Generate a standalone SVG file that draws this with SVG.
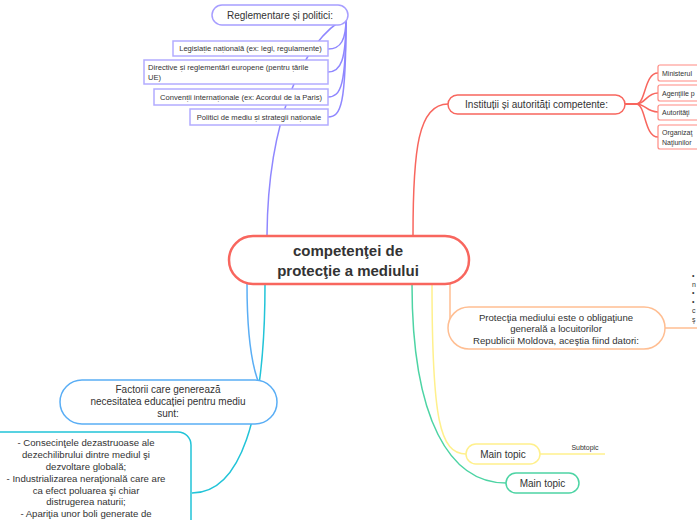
<svg xmlns="http://www.w3.org/2000/svg" width="697" height="520" viewBox="0 0 697 520">
<style>
text{font-family:"Liberation Sans",Arial,sans-serif;fill:#333;text-anchor:middle;dominant-baseline:central}
.c{fill:none;stroke-width:1.5}
.lav{stroke:#8f87ff}
.lbox{fill:#fff;stroke:#b3acff;stroke-width:1.5}
.red{stroke:#f8665e}
.rbox{fill:#fff;stroke:#ff8a82;stroke-width:1.2}
.s7{font-size:7.6px}
.s9{font-size:9.6px}
.t7{font-size:7px}
.l{text-anchor:start}
</style>
<rect width="697" height="520" fill="#fff"/>
<g id="connectors">
<path class="c lav" d="M267 235 C268 120 303 40 347 17"/>
<path class="c lav" d="M346 18 C346 40 341 49 328 49"/>
<path class="c lav" d="M346 18 C346 60 341 72 328 72"/>
<path class="c lav" d="M346 18 C346 85 341 97 328 97"/>
<path class="c lav" d="M346 18 C346 105 341 117 328 117"/>
<path class="c red" d="M413 235 C413 150 418 104 448 104"/>
<path class="c red" d="M625 104 L636 104 C646 104 644 73 658 73"/>
<path class="c red" d="M625 104 L636 104 C646 104 646 93 658 93"/>
<path class="c red" d="M625 104 L636 104 C646 104 646 112 658 112"/>
<path class="c red" d="M625 104 L636 104 C646 104 644 137 658 137"/>
<path class="c" stroke="#ffbe92" d="M450 284 L450 326"/>
<path class="c" stroke="#ffbe92" d="M664 328 L697 328"/>
<path class="c" stroke="#fff08c" d="M432 284 C432 420 440 454 466 454"/>
<path class="c" stroke="#fff08c" d="M540 454 L605 454"/>
<path class="c" stroke="#4dd4a4" d="M412 284 C412 420 450 483 506 483"/>
<path class="c" stroke="#5aaef5" d="M247 284 C247 360 258 400 277 402"/>
<path class="c" stroke="#22c4d8" d="M265 284 C265 420 240 493 192 493"/>
</g>
<g id="central">
<rect x="229" y="236" width="240" height="48" rx="24" fill="#fff" stroke="#f8665e" stroke-width="2.5"/>
<text x="348" y="250" font-size="15" font-weight="bold">competenţei de</text>
<text x="348" y="270" font-size="15" font-weight="bold">protecţie a mediului</text>
</g>
<g id="reglementare">
<rect x="212" y="5" width="136" height="20" rx="10" fill="#fff" stroke="#a79eff" stroke-width="1.5"/>
<text x="280" y="15.5" font-size="10">Reglementare și politici:</text>
</g>
<g id="legislatie">
<rect class="lbox" x="173" y="41" width="155" height="15"/>
<text class="s7" x="250.5" y="48.5">Legislație națională (ex: legi, regulamente)</text>
</g>
<g id="directive">
<rect class="lbox" x="144" y="60" width="184" height="24"/>
<text class="s7 l" x="148" y="67">Directive și reglementări europene (pentru țările</text>
<text class="s7 l" x="148" y="77">UE)</text>
</g>
<g id="conventii">
<rect class="lbox" x="154" y="89" width="174" height="16"/>
<text class="s7" x="241" y="97">Convenții internaționale (ex: Acordul de la Paris)</text>
</g>
<g id="politici">
<rect class="lbox" x="190" y="109" width="138" height="16"/>
<text class="s7" x="259" y="117">Politici de mediu și strategii naționale</text>
</g>
<g id="institutii">
<rect x="448" y="95" width="177" height="19" rx="9.5" fill="#fff" stroke="#f8665e" stroke-width="1.5"/>
<text x="536.5" y="104.5" font-size="10">Instituții și autorități competente:</text>
</g>
<g id="ministerul">
<rect class="rbox" x="658" y="65" width="50" height="16" rx="2"/>
<text class="t7 l" x="662" y="73">Ministerul</text>
</g>
<g id="agentiile">
<rect class="rbox" x="658" y="85" width="50" height="16" rx="2"/>
<text class="t7 l" x="662" y="93">Agenţiile p</text>
</g>
<g id="autoritati">
<rect class="rbox" x="658" y="105" width="50" height="15" rx="2"/>
<text class="t7 l" x="662" y="112.5">Autorităţi</text>
</g>
<g id="organizatii">
<rect class="rbox" x="658" y="125" width="50" height="24" rx="2"/>
<text class="t7 l" x="662" y="132">Organizaţ</text>
<text class="t7 l" x="662" y="142">Naţiunilor</text>
</g>
<g id="protectia">
<rect x="448" y="307" width="217" height="42" rx="21" fill="#fff" stroke="#ffbe92" stroke-width="1.5"/>
<text class="s9" x="556" y="317">Protecţia mediului este o obligaţiune</text>
<text class="s9" x="556" y="328.5">generală a locuitorilor</text>
<text class="s9" x="556" y="340">Republicii Moldova, aceştia fiind datori:</text>
</g>
<g id="datori">
<text class="t7 l" x="692" y="275">•</text>
<text class="t7 l" x="692" y="284">n</text>
<text class="t7 l" x="692" y="292.5">•</text>
<text class="t7 l" x="692" y="301">•</text>
<text class="t7 l" x="692" y="310">c</text>
<text class="t7 l" x="692" y="319">ş</text>
</g>
<g id="main1">
<rect x="466" y="444" width="74" height="20" rx="10" fill="#fff" stroke="#fff08c" stroke-width="1.5"/>
<text x="503" y="454.5" font-size="10">Main topic</text>
</g>
<g id="subtopic">
<text class="t7" x="585" y="447.5">Subtopic</text>
</g>
<g id="main2">
<rect x="506" y="473" width="73" height="20" rx="10" fill="#fff" stroke="#4dd4a4" stroke-width="1.5"/>
<text x="542.5" y="483.5" font-size="10">Main topic</text>
</g>
<g id="factorii">
<rect x="60" y="380" width="217" height="44" rx="22" fill="#fff" stroke="#5aaef5" stroke-width="1.5"/>
<text x="168" y="389.5" font-size="10">Factorii care generează</text>
<text x="168" y="401.5" font-size="10">necesitatea educației pentru mediu</text>
<text x="168" y="413" font-size="10">sunt:</text>
</g>
<g id="consecintele">
<rect x="-20" y="432" width="211" height="110" rx="13" fill="#fff" stroke="#22c4d8" stroke-width="1.5"/>
<text class="s9" x="86" y="442">- Consecinţele dezastruoase ale</text>
<text class="s9" x="86" y="454">dezechilibrului dintre mediul şi</text>
<text class="s9" x="86" y="466">dezvoltare globală;</text>
<text class="s9" x="86" y="478">- Industrializarea neraţională care are</text>
<text class="s9" x="86" y="490">ca efect poluarea şi chiar</text>
<text class="s9" x="86" y="501.5">distrugerea naturii;</text>
<text class="s9" x="86" y="513">- Apariţia unor boli generate de</text>
</g>
</svg>
